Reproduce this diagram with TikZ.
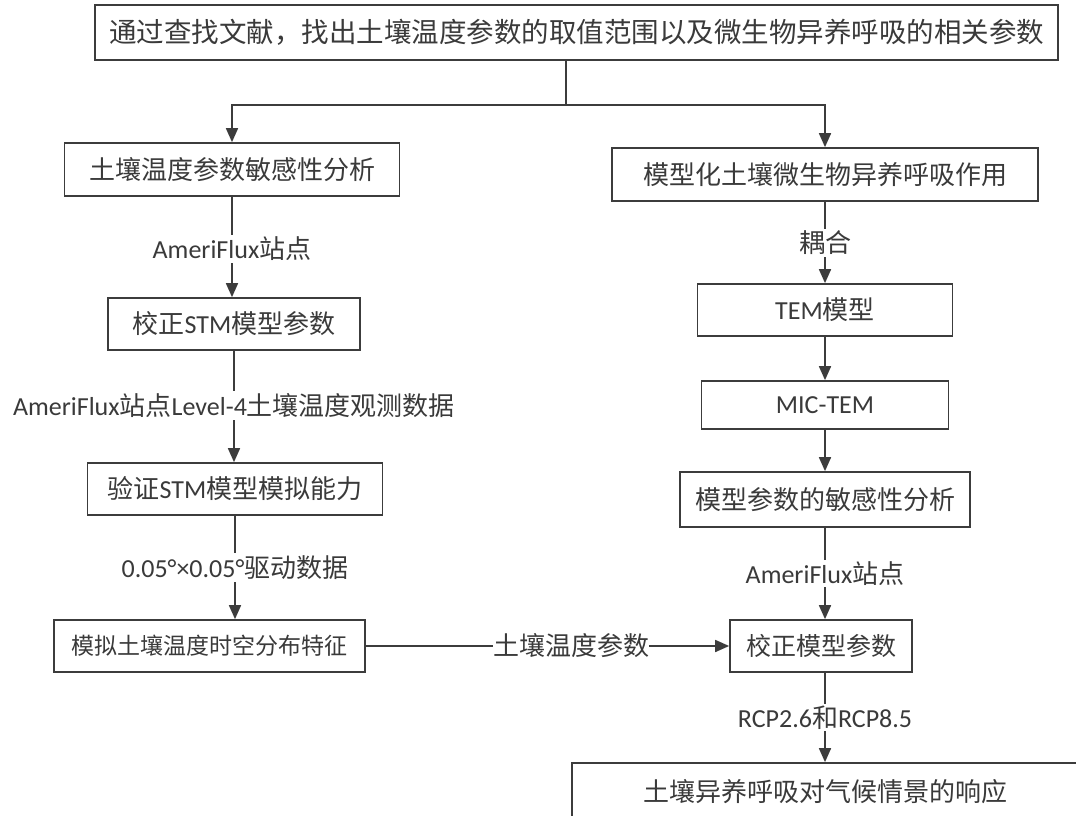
\documentclass[tikz,border=0pt]{standalone}
\usepackage{fontspec}
\setmainfont{Carlito}
\newfontfamily\cjk{Noto Sans CJK SC}
\usetikzlibrary{arrows.meta}
\definecolor{linec}{HTML}{3C3C3C}
\definecolor{textc}{HTML}{3A3A3A}
\newcommand\zh[1]{{\cjk #1}}
\begin{document}
\begin{tikzpicture}[x=1pt,y=-1pt,
  box/.style={draw=linec, line width=1.7pt, fill=white, inner sep=0pt, text=textc,
    font=\fontsize{26}{30}\selectfont},
  lab/.style={fill=white, inner sep=2pt, text=textc, font=\fontsize{26}{30}\selectfont},
  arr/.style={draw=linec, line width=1.7pt, -{Triangle[length=14pt,width=12pt]}},
  ln/.style={draw=linec, line width=1.7pt}]
\clip (0,0) rectangle (1076,816);
\fill[white] (0,0) rectangle (1076,816);
% nodes
\node[box, minimum width=963pt, minimum height=55pt, font=\fontsize{27.5}{30}\selectfont] (top) at (576.5,32.5) {\zh{通过查找文献，找出土壤温度参数的取值范围以及微生物异养呼吸的相关参数}};
\coordinate (j) at (566,105);
\node[box, minimum width=335pt, minimum height=53pt] (L1) at (232,169.5) {\zh{土壤温度参数敏感性分析}};
\node[box, minimum width=426pt, minimum height=53pt] (R1) at (825,174.5) {\zh{模型化土壤微生物异养呼吸作用}};
\node[box, minimum width=252pt, minimum height=52pt] (L2) at (234,324) {\zh{校正}STM\zh{模型参数}};
\node[box, minimum width=295pt, minimum height=52pt] (L3) at (235,489) {\zh{验证}STM\zh{模型模拟能力}};
\node[box, minimum width=311pt, minimum height=52pt, font=\fontsize{23}{28}\selectfont] (L4) at (209.5,646) {\zh{模拟土壤温度时空分布特征}};
\node[box, minimum width=255pt, minimum height=52pt] (TEM) at (825,310) {TEM\zh{模型}};
\node[box, minimum width=247pt, minimum height=48pt] (MIC) at (825,405) {MIC-TEM};
\node[box, minimum width=290pt, minimum height=55pt] (R4) at (825,499.5) {\zh{模型参数的敏感性分析}};
\node[box, minimum width=182pt, minimum height=52pt, font=\fontsize{25}{30}\selectfont] (R5) at (821,646) {\zh{校正模型参数}};
\node[box, minimum width=506pt, minimum height=58pt] (B) at (825,792) {\zh{土壤异养呼吸对气候情景的响应}};
% connectors
\draw[ln] (top.south -| j) -- (j);
\draw[arr] (j) -| (L1.north);
\draw[arr] (j) -| (R1.north);
\draw[arr] (L1.south) -- node[lab, pos=0.52] {AmeriFlux\zh{站点}} (L1.south |- L2.north);
\draw[arr] (L2.south) -- node[lab, pos=0.49] {AmeriFlux\zh{站点}Level-4\zh{土壤温度观测数据}} (L2.south |- L3.north);
\draw[arr] (L3.south) -- node[lab, pos=0.5] {0.05°×0.05°\zh{驱动数据}} (L3.south |- L4.north);
\draw[arr] (L4.east) -- node[lab, pos=0.565, inner xsep=0pt] {\zh{土壤温度参数}} (R5.west);
\draw[arr] (R1.south) -- node[lab, pos=0.5] {\zh{耦合}} (R1.south |- TEM.north);
\draw[arr] (TEM.south) -- (MIC.north);
\draw[arr] (MIC.south) -- (R4.north);
\draw[arr] (R4.south) -- node[lab, pos=0.5] {AmeriFlux\zh{站点}} (R4.south |- R5.north);
\draw[arr] (R4.south |- R5.south) -- node[lab, pos=0.5] {RCP2.6\zh{和}RCP8.5} (B.north);
\end{tikzpicture}
\end{document}
